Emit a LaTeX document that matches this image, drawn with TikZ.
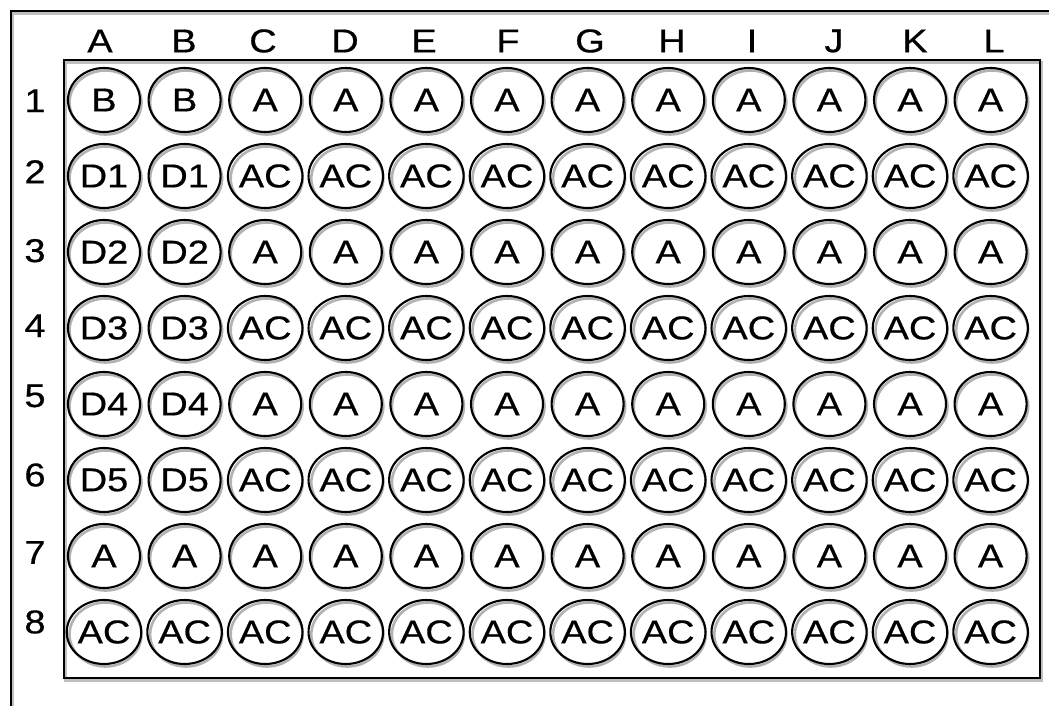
\documentclass[tikz,border=0pt]{standalone}
\usepackage{fontspec}
\setmainfont{Liberation Sans}[FakeStretch=1.15,FakeBold=0.5]
\usetikzlibrary{shapes.geometric}
\begin{document}
\begin{tikzpicture}[x=1pt,y=-1pt,
  labelfont/.style={font=\fontsize{33}{34}\selectfont},
  well/.style={ellipse, draw=black, line width=2.1pt, minimum width=72pt,
    minimum height=64pt, inner sep=0pt, labelfont},
  wellshade/.style={draw=black!30, line width=2.6pt},
  edge/.style={draw=black, line width=2.2pt},
  edgeshade/.style={draw=black!25, line width=2.8pt},
  collabel/.style={labelfont, inner sep=0pt},
  rowlabel/.style={labelfont, inner sep=0pt}]
\useasboundingbox (0,0) rectangle (1049,706);
\fill[white] (0,0) rectangle (1049,706);

% outer frame, open to the right and bottom
\draw[edgeshade] (12.5,706) -- (12.5,13.5) -- (1049,13.5);
\draw[edge] (11,706) -- (11,11) -- (1049,11);

% plate outline
\draw[edgeshade] (65.5,62.5) rectangle (1041.5,680.5);
\draw[edge] (64,60) rectangle (1040,678);

% column letters
\foreach \l/\x in {A/100,B/184,C/263,D/345,E/424,F/508,G/590,H/672,I/752,J/834,K/915,L/994}
  \node[collabel] (col\l) at (\x,41) {\l};

% row numbers
\foreach \r/\y in {1/100.7,2/171.7,3/250.7,4/325.7,5/395.8,6/475,7/552.5,8/622}
  \node[rowlabel] (row\r) at (35,\y) {\r};

% wells: first two columns carry their own label, the rest alternate A / AC
\foreach \r/\first/\rest in {1/B/A,2/D1/AC,3/D2/A,4/D3/AC,5/D4/A,6/D5/AC,7/A/A,8/AC/AC}{
  \foreach \c in {1,...,12}{
    \pgfmathsetmacro\cx{104+80.6*(\c-1)}
    \pgfmathsetmacro\cy{100+76*(\r-1)}
    \ifnum\c<3 \edef\lab{\first}\else\edef\lab{\rest}\fi
    \draw[wellshade] (\cx+1.5,\cy+2.5) ellipse [x radius=36, y radius=32];
    \node[well] (w\r-\c) at (\cx,\cy) {\lab};
  }
}
\end{tikzpicture}
\end{document}
